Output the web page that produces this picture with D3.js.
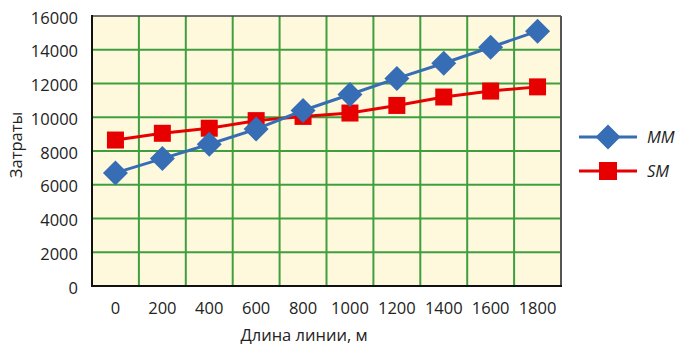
<!DOCTYPE html>
<html><head><meta charset="utf-8">
<script src="https://cdn.jsdelivr.net/npm/d3@7"></script>
<style>body{margin:0;background:#fff;} svg{display:block;font-family:"Open Sans",sans-serif;}</style>
</head><body>
<svg id="c" width="678" height="346"></svg>
<script>
const categories = ["0","200","400","600","800","1000","1200","1400","1600","1800"];
const seriesMM = [6700,7550,8400,9300,10400,11350,12300,13200,14150,15100];
const seriesSM = [8650,9050,9350,9800,10050,10250,10700,11200,11550,11800];
const yTicks = [0,2000,4000,6000,8000,10000,12000,14000,16000];
const seriesNames = ["MM","SM"];

const svg = d3.select("#c");
const L=92, R=561, T=16, B=286;
const x = d3.scaleBand().domain(categories).range([L,R]);
const y = d3.scaleLinear().domain([0,16000]).range([B,T]);

svg.append("rect").attr("x",L).attr("y",T).attr("width",R-L).attr("height",B-T).attr("fill","#fef9dc");

const g = svg.append("g");
g.selectAll(".hg").data(yTicks.slice(1,-1)).join("line")
  .attr("x1",L).attr("x2",R).attr("y1",d=>y(d)).attr("y2",d=>y(d))
  .attr("stroke","#3f9f3f").attr("stroke-width",2);
g.selectAll(".vg").data(categories.slice(1)).join("line")
  .attr("x1",d=>x(d)).attr("x2",d=>x(d)).attr("y1",T).attr("y2",B)
  .attr("stroke","#3f9f3f").attr("stroke-width",2);

// border
svg.append("line").attr("x1",L).attr("x2",R).attr("y1",T).attr("y2",T).attr("stroke","#444").attr("stroke-width",1.5);
svg.append("line").attr("x1",R).attr("x2",R).attr("y1",T).attr("y2",B).attr("stroke","#555").attr("stroke-width",2);
svg.append("line").attr("x1",L).attr("x2",L).attr("y1",T-1).attr("y2",B+1).attr("stroke","#111").attr("stroke-width",2);
svg.append("line").attr("x1",L-1).attr("x2",R+1).attr("y1",B).attr("y2",B).attr("stroke","#111").attr("stroke-width",2);

// y axis
const yAx = svg.append("g").attr("transform",`translate(${L},0)`)
  .call(d3.axisLeft(y).tickValues(yTicks).tickSize(0).tickPadding(14).tickFormat(d3.format("d")));
yAx.select(".domain").remove();
yAx.selectAll("text").attr("font-size",16.5).attr("fill","#222").attr("dy","0.67em").attr("y",-4)
  .attr("font-family","Open Sans, sans-serif");

// x axis
const xAx = svg.append("g").attr("transform",`translate(0,${B})`)
  .call(d3.axisBottom(x).tickSize(0).tickPadding(16));
xAx.select(".domain").remove();
xAx.selectAll("text").attr("font-size",16.5).attr("fill","#222").attr("font-family","Open Sans, sans-serif");

svg.append("text").attr("x",304).attr("y",341).attr("text-anchor","middle")
  .attr("font-size",16.5).attr("fill","#222").text("Длина линии, м");
svg.append("text").attr("transform","translate(22,145) rotate(-90)").attr("text-anchor","middle")
  .attr("font-size",16.5).attr("fill","#222").text("Затраты");

const cx = d => x(d)+x.bandwidth()/2;
const blue="#376db5", red="#e60000";
const line = d3.line().x((d,i)=>cx(categories[i])).y(d=>y(d));

svg.append("path").datum(seriesSM).attr("d",line).attr("fill","none").attr("stroke",red).attr("stroke-width",3);
svg.selectAll(".sm").data(seriesSM).join("rect")
  .attr("x",(d,i)=>cx(categories[i])-8.5).attr("y",d=>y(d)-8.5).attr("width",17).attr("height",17).attr("fill",red);

svg.append("path").datum(seriesMM).attr("d",line).attr("fill","none").attr("stroke",blue).attr("stroke-width",3);
const diamond = (px,py,r)=>`M${px},${py-r}L${px+r},${py}L${px},${py+r}L${px-r},${py}Z`;
svg.selectAll(".mm").data(seriesMM).join("path")
  .attr("d",(d,i)=>diamond(cx(categories[i]),y(d),12.5)).attr("fill",blue);

// legend
const leg = [{n:seriesNames[0],c:blue,y:137,t:"d"},{n:seriesNames[1],c:red,y:171,t:"s"}];
leg.forEach(l=>{
  svg.append("line").attr("x1",579).attr("x2",637).attr("y1",l.y).attr("y2",l.y).attr("stroke",l.c).attr("stroke-width",3);
  if(l.t==="d") svg.append("path").attr("d",diamond(608,l.y,12.5)).attr("fill",l.c);
  else svg.append("rect").attr("x",608-9).attr("y",l.y-9).attr("width",18).attr("height",18).attr("fill",l.c);
  svg.append("text").attr("x",647).attr("y",l.y+6).attr("font-size",16.5).attr("font-style","italic").attr("fill","#222").text(l.n);
});
</script>
</body></html>
